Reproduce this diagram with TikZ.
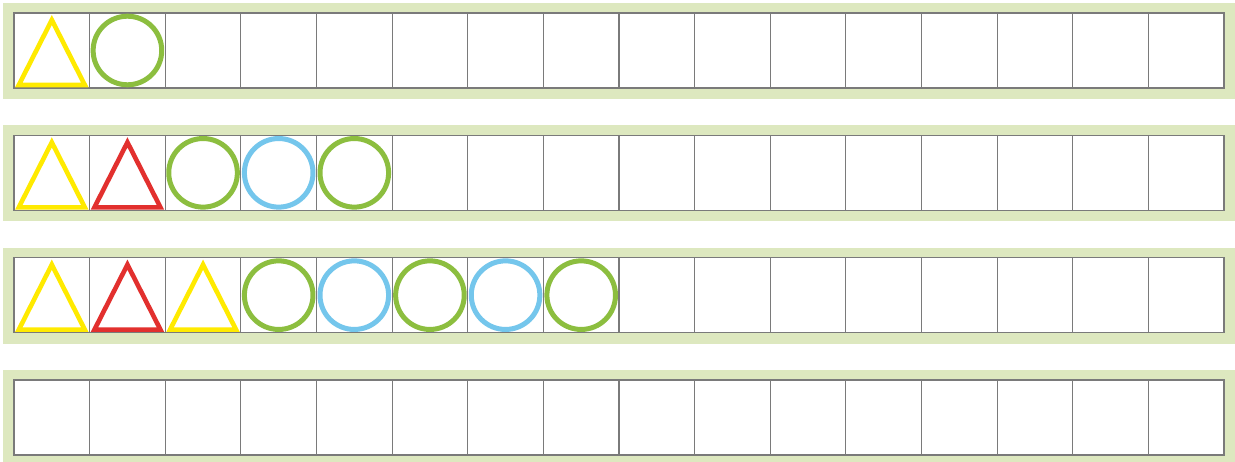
\documentclass[tikz,border=0pt]{standalone}
\definecolor{bgg}{HTML}{DDE8BF}
\definecolor{gridc}{HTML}{7A7A7A}
\definecolor{yel}{HTML}{FFEA00}
\definecolor{redc}{HTML}{E2302E}
\definecolor{grn}{HTML}{8CBE3F}
\definecolor{blu}{HTML}{74C6EC}
\tikzset{
  strip/.style={fill=bgg, draw=none},
  cellline/.style={draw=gridc, line width=1.2pt},
  tri/.style={line width=4.6pt, line join=miter},
  circ/.style={line width=5pt},
}
\newcommand{\mytri}[3]{%
  \pgfmathsetmacro{\cx}{14+75.625*(#2+0.5)}%
  \pgfmathsetmacro{\ty}{13+122.33*#1}%
  \draw[tri, draw=#3] (\cx-33,\ty+72) -- (\cx+33,\ty+72) -- (\cx,\ty+7) -- cycle;}
\newcommand{\mycirc}[3]{%
  \pgfmathsetmacro{\cx}{14+75.625*(#2+0.5)}%
  \pgfmathsetmacro{\ty}{13+122.33*#1}%
  \draw[circ, draw=#3] (\cx,\ty+37.5) circle[radius=34.3];}
\begin{document}
\begin{tikzpicture}[x=1pt,y=-1pt]
\useasboundingbox (0,0) rectangle (1235,462);
\def\cw{75.625}
\foreach \r in {0,1,2,3}{
  \pgfmathsetmacro{\T}{13+122.33*\r}
  \fill[strip] (3,\T-10) rectangle (1235,\T+86);
  \fill[white] (14,\T) rectangle (1224,\T+75);
  \foreach \i in {1,...,15}{
    \draw[cellline] (14+\cw*\i,\T) -- (14+\cw*\i,\T+75);
  }
  \draw[cellline, line width=1.6pt] (14,\T) rectangle (1224,\T+75);
}
% row 1
\mytri{0}{0}{yel}
\mycirc{0}{1}{grn}
% row 2
\mytri{1}{0}{yel}
\mytri{1}{1}{redc}
\mycirc{1}{2}{grn}
\mycirc{1}{3}{blu}
\mycirc{1}{4}{grn}
% row 3
\mytri{2}{0}{yel}
\mytri{2}{1}{redc}
\mytri{2}{2}{yel}
\mycirc{2}{3}{grn}
\mycirc{2}{4}{blu}
\mycirc{2}{5}{grn}
\mycirc{2}{6}{blu}
\mycirc{2}{7}{grn}
\end{tikzpicture}
\end{document}
